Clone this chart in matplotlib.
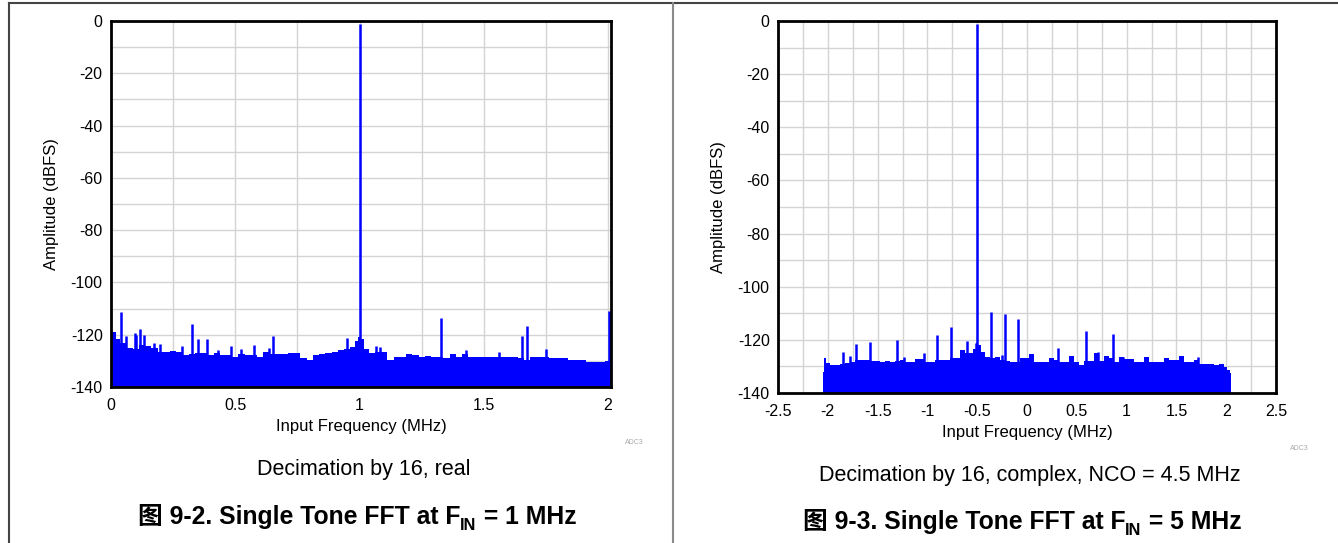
import matplotlib
matplotlib.use("Agg")
import matplotlib.pyplot as plt
from matplotlib.ticker import MultipleLocator
from matplotlib import font_manager

# ---------------- data ----------------
left_floor_f = [0.0, 0.012, 0.025, 0.05, 0.075, 0.1, 0.125, 0.15, 0.175, 0.2, 0.225, 0.25,
                0.275, 0.3, 0.325, 0.35, 0.375, 0.4, 0.425, 0.45, 0.475, 0.5, 0.525, 0.55,
                0.575, 0.6, 0.625, 0.65, 0.675, 0.7, 0.725, 0.75, 0.775, 0.8, 0.825, 0.85,
                0.875, 0.9, 0.925, 0.95, 0.975, 0.99, 1.0, 1.0125, 1.025, 1.05, 1.075, 1.1,
                1.125, 1.15, 1.175, 1.2, 1.225, 1.25, 1.275, 1.3, 1.325, 1.35, 1.375, 1.4,
                1.425, 1.45, 1.475, 1.5, 1.525, 1.55, 1.575, 1.6, 1.625, 1.65, 1.675, 1.7,
                1.725, 1.75, 1.775, 1.8, 1.825, 1.85, 1.875, 1.9, 1.925, 1.95, 1.975, 2.0, 2.012]
left_floor_db = [-117.5, -119, -121.5, -123.3, -125, -125.5, -124, -124.5, -125, -126.5, -126.5,
                 -126.3, -126.5, -127.8, -127.5, -127, -127, -127.8, -127, -127.8, -127.8, -128.4,
                 -127.5, -127.8, -127.8, -128.4, -126.8, -127.5, -127.4, -127.4, -127, -127, -129,
                 -129.7, -127.8, -127.5, -127, -126.5, -126, -125.3, -124.7, -122.5, -121, -121.8,
                 -125.5, -127, -126.5, -126.5, -129.5, -128.4, -128.4, -127.3, -127.8, -128.4,
                 -128, -128.4, -128.7, -129, -127.5, -128.4, -127.5, -128.4, -128.4, -128.6,
                 -128.6, -128.6, -128.4, -128.4, -128.4, -129, -129.5, -128.7, -128.7, -128.7,
                 -129, -129, -129, -129.7, -129.7, -129.7, -130.3, -130.3, -130.3, -130, -129]
left_spur_f = [0.042, 0.059, 0.097, 0.102, 0.118, 0.131, 0.175, 0.196, 0.286, 0.327, 0.35,
               0.387, 0.43, 0.483, 0.524, 0.574, 0.634, 0.653, 0.949, 1.0, 1.066, 1.082, 1.327,
               1.43, 1.561, 1.653, 1.675, 1.751, 2.004]
left_spur_db = [-111.5, -120.4, -119.5, -120.0, -117.9, -120.0, -123.3, -123.7, -124.5, -116.0,
                -121.6, -121.6, -126.0, -124.5, -125.6, -124.0, -125.0, -120.4, -121.4, -1.0,
                -124.3, -124.8, -113.5, -126.0, -126.8, -120.4, -116.6, -125.6, -111.0]

right_floor_f = [-2.048, -2.03, -2.0, -1.95, -1.9, -1.85, -1.8, -1.75, -1.7, -1.65, -1.6, -1.55,
                 -1.5, -1.45, -1.4, -1.35, -1.3, -1.25, -1.2, -1.15, -1.1, -1.05, -1.0, -0.95,
                 -0.9, -0.85, -0.8, -0.75, -0.7, -0.65, -0.6, -0.55, -0.525, -0.5, -0.475, -0.45,
                 -0.4, -0.35, -0.3, -0.25, -0.2, -0.15, -0.1, -0.05, 0.0, 0.05, 0.1, 0.15, 0.2,
                 0.25, 0.3, 0.35, 0.4, 0.45, 0.5, 0.55, 0.6, 0.65, 0.7, 0.75, 0.8, 0.85, 0.9,
                 0.95, 1.0, 1.05, 1.1, 1.15, 1.2, 1.25, 1.3, 1.35, 1.4, 1.45, 1.5, 1.55, 1.6,
                 1.65, 1.7, 1.75, 1.8, 1.85, 1.9, 1.95, 2.0, 2.025, 2.048]
right_floor_db = [-132, -127, -128.8, -129.5, -129.3, -129, -128.8, -128.2, -127.6, -127.6,
                  -127.6, -128, -128, -128.2, -128, -128.2, -128, -127.6, -128.2, -128.2, -127.3,
                  -127.3, -128.2, -128.2, -127.6, -127.6, -127.6, -127, -127, -124, -125, -125,
                  -123.3, -121, -122, -124.5, -126.5, -127, -126.5, -127.5, -128, -128.2, -128.2,
                  -127, -127, -125.4, -128.2, -128.2, -128.2, -126.7, -127.6, -128.4, -128.4,
                  -126, -128.2, -129.5, -128, -128, -125, -128, -126, -127, -128.2, -126.5,
                  -127.3, -127.3, -128.2, -128.2, -126.5, -128.2, -128.2, -128.2, -126.7, -127.6,
                  -127.6, -126, -128.2, -128.2, -127.6, -128.9, -128.9, -128.9, -129.5, -128.9,
                  -130.1, -131.4, -132.3]
right_spur_f = [-1.847, -1.78, -1.713, -1.58, -1.305, -1.23, -1.034, -0.9, -0.76, -0.643, -0.601,
                -0.508, -0.5, -0.36, -0.25, -0.225, -0.09, 0.054, 0.315, 0.455, 0.589, 0.716,
                0.793, 0.86, 0.967, 1.208, 1.536, 1.72]
right_spur_db = [-124.4, -125.9, -121.7, -120.7, -119.9, -126.3, -124.8, -118.2, -115.2, -123.8,
                 -120.5, -121.3, -1.0, -109.4, -125.6, -110.3, -112.3, -125.4, -123.2, -125.9,
                 -116.7, -124.4, -125.9, -117.8, -126.3, -126.3, -125.9, -126.5]

left_xticks = [0, 0.5, 1, 1.5, 2]
left_xticklabels = ["0", "0.5", "1", "1.5", "2"]
right_xticks = [-2.5, -2, -1.5, -1, -0.5, 0, 0.5, 1, 1.5, 2, 2.5]
right_xticklabels = ["-2.5", "-2", "-1.5", "-1", "-0.5", "0", "0.5", "1", "1.5", "2", "2.5"]
yticks = [0, -20, -40, -60, -80, -100, -120, -140]
yticklabels = ["0", "-20", "-40", "-60", "-80", "-100", "-120", "-140"]

xlabel = "Input Frequency (MHz)"
ylabel = "Amplitude (dBFS)"
left_caption = "Decimation by 16, real"
right_caption = "Decimation by 16, complex, NCO = 4.5 MHz"
left_title = ["图 9-2. Single Tone FFT at F", "IN", " = 1 MHz"]
right_title = ["图 9-3. Single Tone FFT at F", "IN", " = 5 MHz"]
watermark = "ADC3"

# ---------------- figure ----------------
W, H = 1338, 543
plt.rcParams["font.family"] = ["Liberation Sans", "Noto Sans CJK SC", "DejaVu Sans"]
fig = plt.figure(figsize=(W / 100, H / 100), dpi=100)
fig.patch.set_facecolor("white")

try:
    font_manager.findfont("Liberation Sans Narrow", fallback_to_default=False)
    TITLE_FAMILY = ["Liberation Sans Narrow", "Noto Sans CJK SC", "DejaVu Sans"]
    TITLE_SIZE = 21.0
except Exception:
    TITLE_FAMILY = ["Liberation Sans", "Noto Sans CJK SC", "DejaVu Sans"]
    TITLE_SIZE = 17.8


def px_rect(x0, y0, x1, y1):
    return [x0 / W, 1 - y1 / H, (x1 - x0) / W, (y1 - y0) / H]


BLUE = "#0000ff"


def style_axes(ax, xlim, xticks, xticklabels):
    ax.set_xlim(*xlim)
    ax.set_ylim(-140, 0)
    ax.set_xticks(xticks)
    ax.set_xticklabels(xticklabels)
    ax.set_yticks(yticks)
    ax.set_yticklabels(yticklabels)
    ax.xaxis.set_minor_locator(MultipleLocator(0.25))
    ax.yaxis.set_minor_locator(MultipleLocator(10))
    ax.grid(True, which="both", color="#d4d4d4", linewidth=1.0)
    ax.set_axisbelow(True)
    ax.tick_params(which="both", length=0, labelsize=11.5, colors="black")
    ax.tick_params(axis="y", pad=6)
    ax.tick_params(axis="x", pad=8)
    for s in ax.spines.values():
        s.set_linewidth(2.0)
        s.set_color("black")
    ax.set_xlabel(xlabel, fontsize=12, labelpad=4)
    ax.set_ylabel(ylabel, fontsize=12, labelpad=8)


axL = fig.add_axes(px_rect(111, 21, 611, 387))
axL.fill_between(left_floor_f, left_floor_db, -140, step="mid", color=BLUE, linewidth=0, zorder=2)
axL.vlines(left_spur_f, -140, left_spur_db, color=BLUE, linewidth=1.8, zorder=2)
style_axes(axL, (0, 2.012), left_xticks, left_xticklabels)

axR = fig.add_axes(px_rect(778, 21, 1276, 393))
axR.fill_between(right_floor_f, right_floor_db, -140, step="mid", color=BLUE, linewidth=0, zorder=2)
axR.vlines(right_spur_f, -140, right_spur_db, color=BLUE, linewidth=1.8, zorder=2)
style_axes(axR, (-2.5, 2.5), right_xticks, right_xticklabels)

# frame lines
fig.add_artist(plt.Line2D([9 / W, 1], [1 - 3 / H, 1 - 3 / H], color="#444444", linewidth=1.5))
fig.add_artist(plt.Line2D([9 / W, 9 / W], [0, 1 - 3 / H], color="#444444", linewidth=1.5))
fig.add_artist(plt.Line2D([673.5 / W, 673.5 / W], [0, 1 - 3 / H], color="#8a8a8a", linewidth=1.5))

# watermark
fig.text(634 / W, 1 - 443 / H, watermark, fontsize=5, color="#aaaaaa", ha="center", va="center")
fig.text(1299 / W, 1 - 449 / H, watermark, fontsize=5, color="#aaaaaa", ha="center", va="center")

# captions
fig.text(364 / W, 1 - 469 / H, left_caption, fontsize=15.5, ha="center", va="center")
fig.text(1030 / W, 1 - 475 / H, right_caption, fontsize=15.5, ha="center", va="center")

renderer = fig.canvas.get_renderer()


def rich_title(parts, xc, yc, size):
    main1, sub, main2 = parts
    kw = dict(fontweight="bold", ha="left", va="baseline", family=TITLE_FAMILY)
    t1 = fig.text(0, 0, main1, fontsize=size, **kw)
    t2 = fig.text(0, 0, sub, fontsize=size * 0.66, **kw)
    t3 = fig.text(0, 0, main2, fontsize=size, **kw)
    w1 = t1.get_window_extent(renderer).width
    w2 = t2.get_window_extent(renderer).width
    w3 = t3.get_window_extent(renderer).width
    total = w1 + w2 + w3
    x0 = xc - total / 2
    base = yc + 8  # baseline in px from top
    t1.set_position((x0 / W, 1 - base / H))
    t2.set_position(((x0 + w1) / W, 1 - (base + 6) / H))
    t3.set_position(((x0 + w1 + w2) / W, 1 - base / H))


rich_title(left_title, 357, 516, TITLE_SIZE)
rich_title(right_title, 1022, 521, TITLE_SIZE)

fig.savefig("out.png", dpi=100, facecolor="white")
